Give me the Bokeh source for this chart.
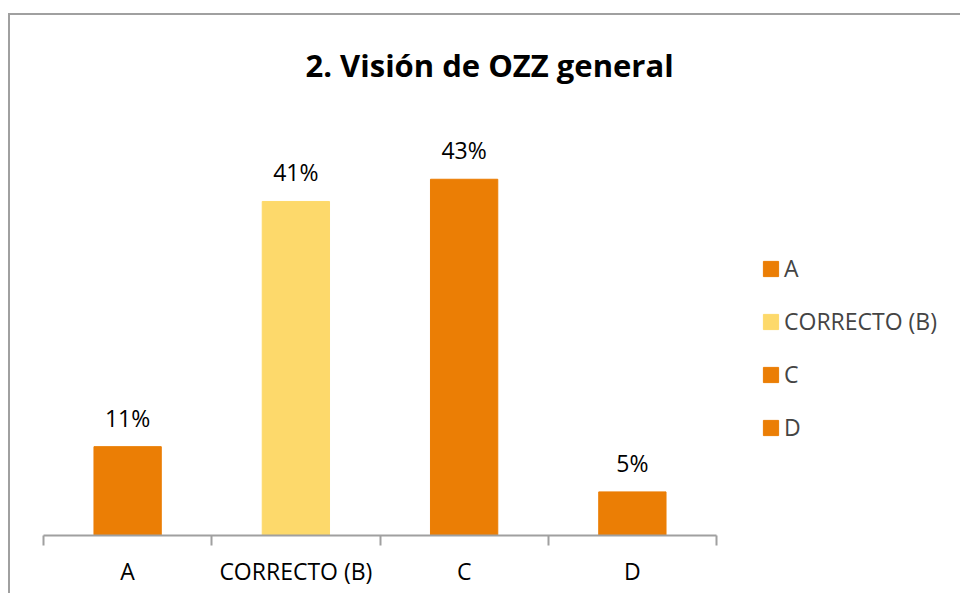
from bokeh.plotting import figure
from bokeh.models import (ColumnDataSource, Range1d, FixedTicker, LabelSet,
                          Legend, LegendItem, Title)
from bokeh.core.properties import value
from bokeh.embed import file_html
from bokeh.resources import INLINE
import numpy as np

title_text = "2. Visión de OZZ general"
categories = ["A", "CORRECTO (B)", "C", "D"]
values = [0.108, 0.406, 0.433, 0.053]
bar_colors = ["#EB7E05", "#FDD96B", "#EB7E05", "#EB7E05"]
value_labels = [f"{round(v * 100)}%" for v in values]

FONT = "Open Sans"
n = len(categories)
xpos = np.arange(n) + 0.5

src = ColumnDataSource(dict(x=xpos, top=values, color=bar_colors,
                            cat=categories, lab=value_labels))

# frame spans to the right edge so the legend sits inside it; axis is bounded to the categories
p = figure(width=952, height=580, output_backend="svg", toolbar_location=None,
           x_range=Range1d(0, n * 919 / 673), y_range=Range1d(0, 0.519),
           min_border_left=33, min_border_right=0, min_border_top=93,
           min_border_bottom=60)
p.styles = {"margin-left": "8px", "margin-top": "13px",
            "border-top": "2px solid #A0A0A0", "border-left": "2px solid #A0A0A0"}
p.outline_line_color = None
p.xgrid.visible = False
p.ygrid.visible = False
p.yaxis.visible = False
p.background_fill_color = "white"
p.border_fill_color = "white"

r = p.vbar(x="x", top="top", width=0.4, color="color", source=src)

xa = p.xaxis[0]
xa.bounds = (0, n)
xa.ticker = FixedTicker(ticks=list(xpos), minor_ticks=list(range(n + 1)))
xa.major_label_overrides = {float(x): c for x, c in zip(xpos, categories)}
xa.major_tick_out = 0
xa.major_tick_in = 0
xa.minor_tick_out = 10
xa.minor_tick_in = 0
xa.minor_tick_line_color = "#A0A0A0"
xa.minor_tick_line_width = 2
xa.axis_line_color = "#A0A0A0"
xa.axis_line_width = 2
xa.major_label_text_font = FONT
xa.major_label_text_font_size = "23px"
xa.major_label_text_color = "black"
xa.major_label_standoff = 9

labels = LabelSet(x="x", y="top", text="lab", source=src, y_offset=20,
                  text_align="center", text_baseline="alphabetic",
                  text_font=value(FONT), text_font_size=value("23px"),
                  text_color="black")
p.add_layout(labels)

title = Title(text=title_text, align="left", offset=262, vertical_align="bottom",
              standoff=46, text_font=FONT, text_font_style="bold",
              text_font_size="31px", text_color="black")
p.add_layout(title, "above")

items = [LegendItem(label=c, renderers=[r], index=i) for i, c in enumerate(categories)]
legend = Legend(items=items, location=(718, 92), padding=0, margin=0,
                border_line_color=None, background_fill_alpha=0,
                glyph_width=19, glyph_height=19, label_standoff=4,
                label_text_font=FONT, label_text_font_size="23px",
                label_height=27, spacing=21)
p.add_layout(legend)

open("out.html", "w").write(file_html(p, INLINE))
